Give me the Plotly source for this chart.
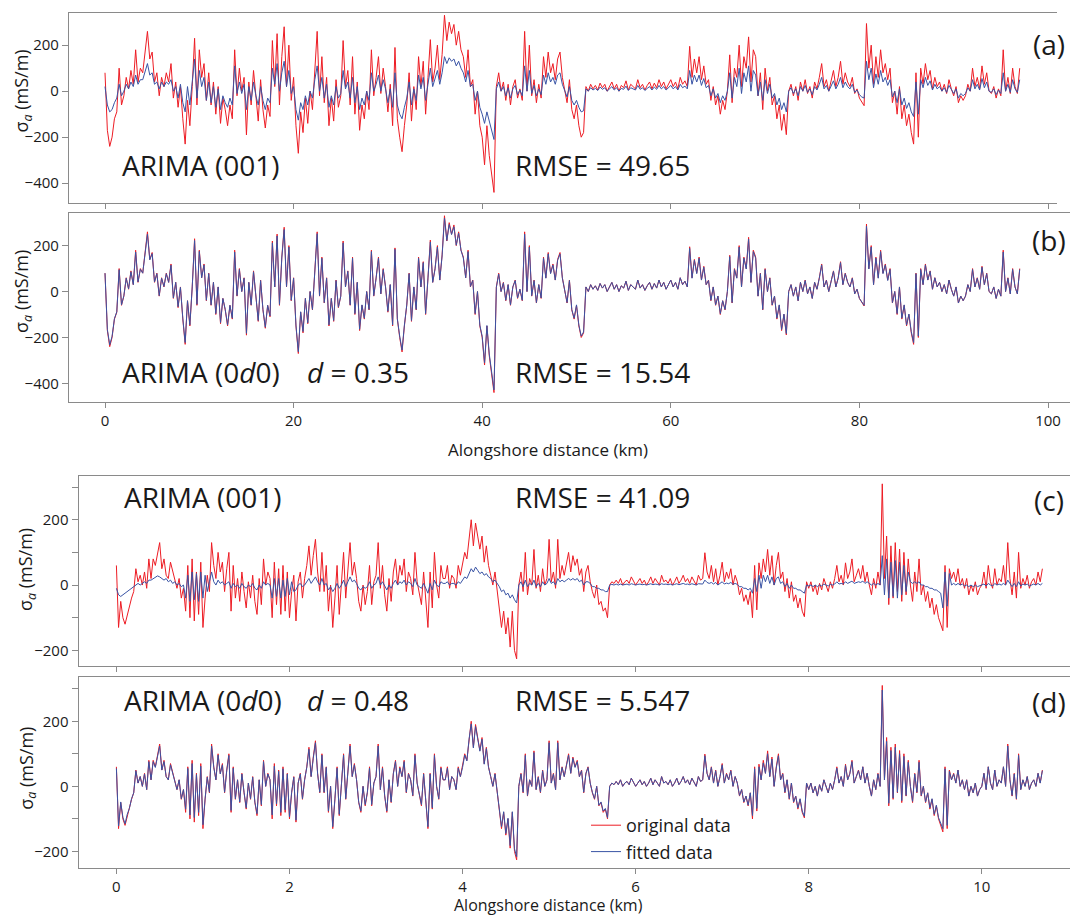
import numpy as np
import plotly.graph_objects as go

# ---------------- data ----------------
STEP_AB = 0.25   # km between samples, panels (a)(b)
STEP_CD = 0.025  # km between samples, panels (c)(d)

orig_ab = [
    80, -170, -240, -200, -120, -90, 100, -60, -20, 60, 10, 90, 30, 180, 40, 100,
    80, 170, 260, 140, 170, 40, 80, -20, 60, 20, 80, 40, 120, -30, 40, -70,
    20, -120, -230, -40, -150, 20, 230, -60, 180, 60, 120, -40, 80, -60, 40, -100,
    20, -140, -30, -80, -150, -60, -120, 180, -20, 100, 0, 60, -190, 40, -60, 90,
    -40, -130, 50, -80, -160, -60, -110, 220, 20, 250, -60, 150, 280, 20, 200, -40,
    60, -150, -270, -90, -180, -30, -140, 0, -80, 100, 260, -20, 150, -50, 60, -150,
    -30, -130, 50, -70, -20, 220, 20, 90, -60, 150, -100, 40, -170, -60, -120, 0,
    -80, 180, -20, 60, 150, -10, 100, 20, -90, 30, -150, 190, -120, -200, -263, -150,
    -60, 80, -130, 20, -80, 150, 20, 130, -100, 60, 224, 40, 100, 200, 50, 160,
    330, 220, 300, 250, 290, 200, 260, 180, 150, 60, 180, 20, 50, -100, 0, -150,
    -200, -320, -150, -280, -350, -440, 20, 80, 0, 40, -40, 30, -60, 20, 50, -30,
    10, -40, 260, 0, 200, -20, 50, -50, 30, -30, 150, 60, 170, 80, 120, 50,
    140, 170, 60, 0, -50, 50, -80, -120, -60, -150, -200, -180, 20, 0, 30, 10,
    25, 5, 35, 15, 30, 0, 20, 40, 10, 30, 0, 25, 15, 45, 5, 30,
    20, 10, 50, 15, 30, 5, 25, 40, 10, 35, 15, 50, 20, 40, 10, 30,
    50, 20, 40, 10, 60, 30, 45, 20, 195, 60, 140, 80, 150, 50, 110, 30,
    50, -40, 20, -60, -20, -100, -40, -80, 0, 158, -50, 100, 60, 200, 20, 150,
    100, 236, 40, 180, 150, -20, 80, -80, 100, 0, 60, -60, -20, -120, -60, -170,
    -100, -189, 0, 30, -20, 20, -40, 40, 0, 50, -10, 20, -30, 40, 10, 60,
    120, 20, 50, 0, 40, 90, 20, 60, 130, 30, 80, 40, 20, 60, -10, 10,
    -30, -50, -63, 294, 100, 200, 30, 150, 60, 180, 80, 120, 50, 100, -50, 0,
    -100, 20, -120, -60, -150, -100, -180, -230, 80, -200, 100, 30, 120, 50, 90, 10,
    60, 20, 40, 0, 30, -10, 50, 10, -20, 20, -50, -20, -40, -20, 30, 0,
    100, 20, 60, 10, 110, 30, 80, 0, -10, 20, -30, 10, -20, 180, 0, 60,
    -10, 100, 20, -10, 100,
]

fit001_ab = [
    20, -60, -90, -80, -50, -30, 30, -20, 0, 30, 10, 40, 20, 70, 30, 50,
    50, 80, 120, 70, 80, 30, 40, 10, 40, 20, 40, 30, 50, 0, 20, -30,
    30, -50, -90, 20, -60, 40, 140, -30, 90, 20, 60, -40, 40, -50, 20, -70,
    10, -80, -20, -50, -70, -30, -60, 110, -10, 40, -10, 30, -80, 20, -40, 40,
    -20, -60, 20, -40, -80, -30, -50, 100, 30, 120, 0, 80, 130, 20, 90, -10,
    20, -80, -126, -50, -80, -20, -60, 0, -30, 50, 110, 0, 60, -30, 30, -70,
    -20, -60, 20, -30, -10, 90, 10, 40, -30, 60, -50, 20, -80, -30, -60, 0,
    -40, 80, 0, 30, 70, 0, 50, 10, -50, 10, -70, 80, -60, -100, -120, -70,
    -30, 40, -60, 10, -40, 70, 10, 60, -40, 30, 100, 20, 50, 90, 30, 80,
    150, 120, 145, 130, 140, 110, 130, 100, 80, 40, 90, 20, 30, -40, 0, -70,
    -100, -140, -90, -130, -160, -210, 10, 40, 0, 20, -20, 15, -30, 10, 25, -15,
    5, -20, 110, 0, 90, -10, 25, -20, 10, -15, 70, 30, 80, 40, 60, 30,
    70, 80, 30, 0, -25, 20, -40, -60, -40, -70, -90, -85, 10, 0, 15, 5,
    12, 3, 18, 8, 15, 0, 10, 20, 5, 15, 0, 12, 8, 22, 3, 15,
    10, 5, 25, 8, 15, 3, 12, 20, 5, 18, 8, 25, 10, 20, 5, 15,
    25, 10, 20, 5, 30, 15, 22, 10, 90, 30, 70, 40, 70, 25, 55, 15,
    25, -20, 10, -30, -10, -50, -20, -40, 0, 80, -30, 60, 20, 100, -10, 80,
    40, 110, 0, 90, 70, -20, 40, -40, 50, -10, 30, -30, -10, -60, -30, -80,
    -50, -90, 0, 15, -10, 10, -20, 20, 0, 25, -5, 10, -15, 20, 5, 30,
    60, 10, 25, 0, 20, 45, 10, 30, 60, 15, 40, 20, 10, 30, -5, 5,
    -15, -25, -30, 130, 50, 100, 15, 75, 30, 90, 40, 60, 25, 50, -25, 0,
    -50, 10, -60, -30, -75, -50, -90, -110, 40, -100, 50, 15, 60, 25, 45, 5,
    30, 10, 20, 0, 15, -5, 25, 5, -10, 10, -30, -10, -20, -10, 15, 0,
    50, 10, 30, 5, 55, 15, 40, 0, -5, 10, -15, 5, -10, 80, 0, 30,
    -5, 50, 10, -5, 50,
]

fit0d0_ab = [
    80, -165, -232, -195, -118, -88, 95, -58, -18, 58, 12, 86, 30, 172, 42, 97,
    80, 165, 250, 138, 165, 42, 78, -18, 58, 22, 78, 40, 115, -28, 40, -66,
    18, -116, -222, -40, -145, 20, 222, -56, 175, 60, 116, -38, 78, -58, 40, -96,
    20, -135, -30, -78, -145, -60, -116, 172, -18, 96, 0, 58, -182, 40, -58, 86,
    -40, -126, 48, -78, -155, -60, -106, 212, 20, 242, -56, 146, 270, 22, 194, -38,
    58, -146, -262, -88, -174, -30, -136, 0, -78, 96, 252, -18, 145, -48, 58, -145,
    -30, -126, 48, -68, -20, 212, 20, 88, -58, 145, -96, 40, -164, -58, -116, 0,
    -78, 174, -18, 58, 145, -10, 96, 20, -86, 30, -145, 184, -118, -194, -255, -146,
    -58, 78, -126, 20, -78, 145, 20, 126, -96, 58, 216, 40, 98, 194, 50, 155,
    320, 222, 292, 248, 282, 202, 254, 180, 146, 60, 174, 22, 48, -96, 0, -146,
    -195, -310, -148, -272, -342, -428, 18, 76, 0, 38, -38, 30, -58, 20, 48, -28,
    10, -38, 250, 0, 194, -18, 48, -48, 30, -28, 145, 58, 164, 78, 116, 50,
    136, 164, 58, 0, -48, 48, -78, -116, -58, -146, -194, -176, 20, 0, 30, 10,
    25, 5, 35, 15, 30, 0, 20, 40, 10, 30, 0, 25, 15, 45, 5, 30,
    20, 10, 50, 15, 30, 5, 25, 40, 10, 35, 15, 50, 20, 40, 10, 30,
    50, 20, 40, 10, 60, 30, 45, 20, 188, 58, 136, 78, 145, 50, 106, 30,
    48, -38, 20, -58, -20, -96, -40, -78, 0, 152, -48, 96, 58, 194, 20, 146,
    98, 228, 40, 174, 145, -20, 78, -78, 96, 0, 58, -58, -20, -116, -58, -165,
    -98, -183, 0, 30, -20, 20, -40, 40, 0, 48, -10, 20, -30, 40, 10, 58,
    116, 20, 48, 0, 40, 88, 20, 58, 126, 30, 78, 40, 20, 58, -10, 10,
    -30, -48, -60, 284, 98, 194, 30, 146, 58, 174, 78, 116, 48, 96, -48, 0,
    -96, 20, -116, -58, -146, -98, -174, -222, 78, -194, 96, 30, 116, 50, 88, 10,
    60, 20, 40, 0, 30, -10, 50, 10, -20, 20, -50, -20, -40, -20, 30, 0,
    96, 20, 58, 10, 106, 30, 78, 0, -10, 20, -30, 10, -20, 172, 0, 58,
    -10, 96, 20, -10, 96,
]

orig_cd = [
    60, -130, -50, -100, -120, -90, -70, -40, -20, 50, 10, 30, 0, 40, -10, 80,
    20, 80, 60, 100, 130, 50, 80, 30, 20, 70, 40, 10, -10, 20, -40, -10,
    -80, 60, -100, 80, -110, 40, -90, 70, -130, -40, 30, -20, 130, 60, 20, 100,
    40, 70, -20, 50, 100, -80, 60, -40, 20, -50, 40, -20, -70, 10, -40, 30,
    -50, -90, 20, -60, 80, 0, 40, 20, -100, 70, -60, 50, -90, 60, -80, 40,
    -100, -20, 30, -110, 10, 40, -40, 20, 60, 120, 30, 90, 140, 40, -20, 100,
    -20, 60, -80, 0, -130, -40, 60, -90, 20, 100, -40, 50, 130, 30, 70, 20,
    -50, -80, 0, -60, -20, 60, -60, 10, 30, 130, -10, 60, -30, -80, 20, -50,
    40, 80, 0, 60, 30, 80, -20, 40, 20, -30, 100, 10, -20, -60, 40, -40,
    -130, 40, -70, 100, 0, -40, 60, 20, 20, 60, -10, 30, 20, -10, 60, 30,
    60, 100, 80, 150, 200, 120, 190, 150, 110, 150, 70, 120, 60, 30, 0, 40,
    -20, -60, -130, -80, -150, -100, -190, -80, -200, -226, 0, 40, -20, 100, -30, 20,
    0, 109, -10, 30, -20, 50, 0, 20, 140, 10, 40, -10, 140, 20, 60, 30,
    70, 100, 40, 90, 60, 80, 30, 50, -20, 40, 60, 10, -20, -40, 0, -60,
    -50, -80, -70, -100, 0, 10, 5, 15, 5, 20, 0, 10, 15, 5, 25, 10,
    0, 10, 20, 5, 15, 0, 10, 25, 5, 20, 10, 0, 30, 10, 15, 5,
    20, 0, 10, 25, 5, 15, 30, 10, 20, 5, 25, 10, 0, 30, 15, 20,
    99, 40, 20, 60, 10, 50, 0, 30, 70, 10, 40, 20, 50, 0, 30, 10,
    -30, -10, -50, -30, -60, -20, -100, 60, -76, 68, 20, 80, 40, 109, 30, 90,
    0, 60, 100, 20, 40, -20, 20, -40, 10, -50, -30, -70, -40, -80, -97, 10,
    -10, 10, -20, 0, -30, 5, -15, 20, 0, -20, 10, -10, 20, 60, 10, 30,
    0, 68, 20, 40, 80, 10, 30, 50, 20, 60, 10, 40, 0, -30, 20, -10,
    40, 0, 310, 20, 150, -60, 120, -40, 130, -20, 110, -50, 100, -30, 80, 0,
    -50, 40, -20, 80, -30, 0, -50, -20, -70, -40, -90, -60, -100, -120, -140, 60,
    -130, 50, 20, 40, 10, 50, 0, 20, -10, 20, -30, 0, -20, 10, -30, -10,
    0, 40, -10, 60, 10, -10, 50, 0, 20, 10, 60, 0, 130, 20, -30, 40,
    -40, 100, -10, 20, 0, 30, -10, 10, 20, 0, 40, 10, 50,
]

fit001_cd = [
    -10, -30, -35, -30, -25, -20, -15, -10, -5, 0, 5, 0, 5, 10, 5, 15,
    15, 20, 25, 28, 25, 20, 15, 20, 10, 15, 5, 10, 0, 5, -5, 0,
    -40, 30, -50, 40, -45, 35, -50, 40, -40, 30, -20, 10, 40, 10, 0, 15,
    5, 10, 0, 5, 10, -10, 5, -5, 0, -10, 5, -5, -10, 0, -5, 5,
    -10, -15, 0, -10, 10, 0, 5, 0, -40, 20, -35, 20, -40, 15, -35, 20,
    -30, 10, -20, -15, 0, 5, -5, 0, 10, 20, 5, 15, 25, 10, 0, 20,
    0, 5, -15, -5, -20, -10, 5, -10, 0, 15, -5, 10, 25, 10, 15, 5,
    -10, -15, -5, -10, -5, 10, -10, 0, 5, 25, 0, 10, -5, -15, 0, -10,
    5, 15, 0, 10, 5, 15, 0, 10, 5, -5, 20, 0, -5, -10, 5, -10,
    -25, 5, -15, 15, 0, -5, 10, 5, 5, 10, 0, 5, 5, 0, 10, 5,
    15, 25, 20, 35, 50, 40, 55, 45, 35, 40, 30, 35, 25, 20, 10, 15,
    5, -5, -20, -15, -30, -25, -40, -30, -45, -55, 0, 10, -5, 15, -5, 5,
    0, 15, -5, 5, -5, 10, 0, 5, 20, 5, 10, 0, 20, 10, 15, 10,
    15, 20, 15, 20, 15, 20, 10, 15, 0, 10, 10, 5, -5, -5, -10, -10,
    -15, -15, -20, -20, 0, 2, 0, 3, 0, 3, 0, 2, 3, 0, 4, 2,
    0, 2, 3, 1, 2, 0, 3, 4, 1, 3, 2, 0, 4, 2, 3, 1,
    3, 0, 2, 4, 1, 3, 5, 2, 3, 1, 4, 2, 0, 4, 3, 3,
    15, 8, 5, 8, 3, 8, 0, 5, 10, 3, 6, 4, 8, 2, 5, 2,
    -5, -5, -10, -10, -15, -10, -25, 20, -20, 30, -10, 30, 10, 30, 5, 25,
    0, 20, 25, 5, 10, -5, 5, -10, 0, -10, -10, -15, -15, -20, -25, 0,
    -3, 0, -5, 0, -5, 0, -3, 3, 0, -3, 2, 0, 3, 10, 3, 5,
    3, 10, 5, 8, 12, 5, 8, 10, 8, 12, 5, 10, 5, 0, 5, 0,
    5, 0, 90, -30, 80, -40, 70, -35, 75, -40, 70, -30, 60, -20, 40, 10,
    5, 10, 5, 10, 0, 0, -5, -5, -10, -10, -15, -15, -20, -25, -70, 40,
    -65, 35, 0, 5, 0, 5, 0, 3, -3, 0, -5, 0, -5, 0, -5, -3,
    0, 3, -3, 5, 0, -3, 5, 0, 3, 0, 5, 0, 15, 3, -5, 5,
    -5, 10, -3, 3, 0, 3, -3, 0, 3, 0, 5, 0, 5,
]

fit0d0_cd = [
    55, -122, -48, -95, -115, -86, -68, -38, -20, 48, 10, 30, 0, 38, -10, 76,
    20, 76, 58, 96, 124, 50, 76, 30, 20, 66, 38, 10, -10, 20, -38, -10,
    -70, 55, -88, 70, -96, 36, -80, 62, -118, -38, 28, -18, 124, 58, 20, 96,
    38, 66, -18, 48, 95, -74, 56, -38, 20, -48, 38, -18, -66, 10, -38, 28,
    -48, -84, 20, -56, 76, 0, 38, 20, -88, 62, -54, 46, -80, 54, -72, 38,
    -94, -18, 28, -104, 10, 38, -38, 20, 58, 114, 30, 86, 134, 38, -18, 96,
    -18, 58, -76, 0, -124, -38, 56, -86, 20, 96, -38, 48, 124, 30, 66, 20,
    -48, -76, 0, -56, -18, 56, -56, 10, 30, 124, -10, 56, -28, -76, 20, -48,
    38, 76, 0, 56, 30, 76, -18, 38, 20, -28, 95, 10, -18, -56, 38, -38,
    -124, 38, -66, 95, 0, -38, 56, 20, 20, 56, -10, 30, 20, -10, 56, 30,
    58, 96, 78, 145, 192, 118, 184, 146, 108, 145, 68, 116, 58, 30, 0, 38,
    -20, -58, -124, -78, -145, -98, -182, -78, -192, -216, 0, 38, -18, 95, -28, 20,
    0, 104, -10, 28, -18, 48, 0, 20, 134, 10, 38, -10, 134, 20, 58, 30,
    68, 96, 40, 86, 58, 76, 30, 48, -18, 38, 58, 10, -18, -38, 0, -58,
    -48, -76, -68, -96, 0, 10, 5, 15, 5, 20, 0, 10, 15, 5, 25, 10,
    0, 10, 20, 5, 15, 0, 10, 25, 5, 20, 10, 0, 30, 10, 15, 5,
    20, 0, 10, 25, 5, 15, 30, 10, 20, 5, 25, 10, 0, 30, 15, 20,
    94, 40, 20, 58, 10, 48, 0, 30, 66, 10, 38, 20, 48, 0, 30, 10,
    -28, -10, -48, -30, -58, -20, -90, 54, -68, 60, 20, 72, 40, 100, 30, 84,
    0, 56, 94, 20, 38, -18, 20, -38, 10, -48, -30, -66, -38, -76, -92, 10,
    -10, 10, -20, 0, -30, 5, -15, 20, 0, -20, 10, -10, 20, 56, 10, 30,
    0, 64, 20, 38, 76, 10, 30, 48, 20, 60, 10, 40, 0, -30, 20, -10,
    38, 0, 296, 20, 138, -52, 110, -36, 120, -18, 100, -44, 92, -28, 74, 0,
    -46, 38, -18, 74, -28, 0, -48, -20, -66, -38, -86, -58, -96, -114, -130, 54,
    -120, 46, 20, 38, 10, 50, 0, 20, -10, 20, -30, 0, -20, 10, -30, -10,
    0, 40, -10, 60, 10, -10, 50, 0, 20, 10, 60, 0, 124, 20, -28, 38,
    -38, 95, -10, 20, 0, 30, -10, 10, 20, 0, 40, 10, 48,
]

xticks_ab = [0, 20, 40, 60, 80, 100]
xticks_cd = [0, 2, 4, 6, 8, 10]
yticks_ab = [-400, -200, 0, 200]
yticks_cd = [-200, 0, 200]
yminor_cd = [-100, 100, 300]

labels = {
    "a": ("ARIMA (001)", None, "RMSE = 49.65", "(a)"),
    "b": ("ARIMA (0<i>d</i>0)", "<i>d</i> = 0.35", "RMSE = 15.54", "(b)"),
    "c": ("ARIMA (001)", None, "RMSE = 41.09", "(c)"),
    "d": ("ARIMA (0<i>d</i>0)", "<i>d</i> = 0.48", "RMSE = 5.547", "(d)"),
}

# ---------------- styling / geometry ----------------
W, H = 1070, 919
RED = "#ED1C24"
BLUE = "#3953A4"
FRAME = "#8a8a8a"
TXT = "#1a1a1a"
FONT = "Open Sans"


def fx(p):
    return p / W


def fy(p):
    return 1 - p / H


def km(vals, step):
    return np.round(np.arange(len(vals)) * step, 4)


fig = go.Figure()

series = [
    ("x", "y", orig_ab, fit001_ab, STEP_AB, False),
    ("x2", "y2", orig_ab, fit0d0_ab, STEP_AB, False),
    ("x3", "y3", orig_cd, fit001_cd, STEP_CD, False),
    ("x4", "y4", orig_cd, fit0d0_cd, STEP_CD, True),
]
for xa, ya, o, f, st, leg in series:
    fig.add_trace(go.Scatter(x=km(o, st), y=o, xaxis=xa, yaxis=ya, mode="lines",
                             line=dict(color=RED, width=1), name="original data",
                             showlegend=leg, hoverinfo="skip"))
    fig.add_trace(go.Scatter(x=km(f, st), y=f, xaxis=xa, yaxis=ya, mode="lines",
                             line=dict(color=BLUE, width=1), name="fitted data",
                             showlegend=leg, hoverinfo="skip"))

tickfont = dict(family=FONT, size=15, color=TXT)
common_x = dict(showgrid=False, zeroline=False, showline=True, linecolor=FRAME, linewidth=1,
                mirror=True, ticks="outside", ticklen=5, tickcolor=FRAME, tickfont=tickfont)
common_y = dict(showgrid=False, zeroline=False, showline=True, linecolor=FRAME, linewidth=1,
                mirror=False, ticks="outside", ticklen=6, tickcolor=FRAME, tickfont=tickfont)
minor_cd = dict(tickvals=yminor_cd, ticks="outside", ticklen=6, tickcolor=FRAME, showgrid=False)

# pixel geometry of the four panels
A_TOP, A_BOT = 12.5, 203
B_TOP, B_BOT = 213, 402
C_TOP, C_BOT = 476, 666
D_TOP, D_BOT = 677, 868
AB_L, AB_R_A, AB_R_B = 68.9, 1057, 1070
CD_L, CD_R = 78.5, 1070
AB_X0, AB_PPK = 105.0, 9.43      # px of 0 km, px per km
CD_X0, CD_PPK = 116.4, 86.54


def xr(l, r, x0, ppk):
    return [(l - x0) / ppk, (r - x0) / ppk]


fig.update_layout(
    xaxis=dict(domain=[fx(AB_L), fx(AB_R_A)], range=xr(AB_L, AB_R_A, AB_X0, AB_PPK), anchor="y",
               tickvals=xticks_ab, showticklabels=False, **common_x),
    xaxis2=dict(domain=[fx(AB_L), fx(AB_R_B)], range=xr(AB_L, AB_R_B, AB_X0, AB_PPK), anchor="y2",
                tickvals=xticks_ab, **common_x),
    xaxis3=dict(domain=[fx(CD_L), fx(CD_R)], range=xr(CD_L, CD_R, CD_X0, CD_PPK), anchor="y3",
                tickvals=xticks_cd, showticklabels=False, **common_x),
    xaxis4=dict(domain=[fx(CD_L), fx(CD_R)], range=xr(CD_L, CD_R, CD_X0, CD_PPK), anchor="y4",
                tickvals=xticks_cd, **common_x),
    yaxis=dict(domain=[fy(A_BOT), fy(A_TOP)], range=[-486, 342], anchor="x",
               tickvals=yticks_ab, **common_y),
    yaxis2=dict(domain=[fy(B_BOT), fy(B_TOP)], range=[-481, 342], anchor="x2",
                tickvals=yticks_ab, **common_y),
    yaxis3=dict(domain=[fy(C_BOT), fy(C_TOP)], range=[-248, 334], anchor="x3",
                tickvals=yticks_cd, minor=minor_cd, **common_y),
    yaxis4=dict(domain=[fy(D_BOT), fy(D_TOP)], range=[-251, 336], anchor="x4",
                tickvals=yticks_cd, minor=minor_cd, **common_y),
)

ann = []
big = dict(family=FONT, size=28, color=TXT)
# panel text: (key, xref, yref, x_arima, x_d, x_rmse, y_text, x_tag, y_tag)
place = [
    ("a", "x", "y", 1.64, None, 43.3, -320, 100.1, 205),
    ("b", "x2", "y2", 1.64, 21.2, 43.3, -349, 100.1, 223),
    ("c", "x3", "y3", 0.067, None, 4.58, 270, 10.78, 260),
    ("d", "x4", "y4", 0.067, 2.18, 4.58, 264, 10.78, 258),
]
for key, xref, yref, xa, xd, xrm, yt, xtag, ytag in place:
    t_ar, t_d, t_rm, t_tag = labels[key]
    ann.append(dict(x=xa, y=yt, xref=xref, yref=yref, text=t_ar, showarrow=False,
                    xanchor="left", yanchor="middle", font=big))
    if t_d:
        ann.append(dict(x=xd, y=yt, xref=xref, yref=yref, text=t_d, showarrow=False,
                        xanchor="left", yanchor="middle", font=big))
    ann.append(dict(x=xrm, y=yt, xref=xref, yref=yref, text=t_rm, showarrow=False,
                    xanchor="left", yanchor="middle", font=big))
    ann.append(dict(x=xtag, y=ytag, xref=xref, yref=yref, text=t_tag, showarrow=False,
                    xanchor="center", yanchor="middle", font=big))

ytitle = "σ<sub><i>a</i></sub> (mS/m)"
for yref, xp, yv in [("y", 22.4, 0), ("y2", 22.4, 0), ("y3", 26.7, 48), ("y4", 26.7, 56)]:
    ann.append(dict(x=fx(xp), y=yv, xref="paper", yref=yref, text=ytitle, textangle=-90,
                    showarrow=False, xanchor="center", yanchor="middle",
                    font=dict(family=FONT, size=18, color=TXT)))

xtitle = "Alongshore distance (km)"
ann.append(dict(x=fx(548), y=fy(449), xref="paper", yref="paper", text=xtitle,
                showarrow=False, xanchor="center", yanchor="middle",
                font=dict(family=FONT, size=17, color=TXT)))
ann.append(dict(x=fx(548), y=fy(917), xref="paper", yref="paper", text=xtitle,
                showarrow=False, xanchor="center", yanchor="bottom",
                font=dict(family=FONT, size=16, color=TXT), borderpad=0))

fig.update_layout(
    width=W, height=H, autosize=False,
    margin=dict(l=0, r=0, t=0, b=0),
    paper_bgcolor="white", plot_bgcolor="white",
    annotations=ann,
    legend=dict(x=fx(586), y=fy(807), xanchor="left", yanchor="top",
                font=dict(family=FONT, size=18, color=TXT), bgcolor="rgba(0,0,0,0)",
                itemwidth=30, tracegroupgap=0),
    font=dict(family=FONT, color=TXT),
)

fig.write_html("out.html", config={"displayModeBar": False},
               post_script="document.body.style.margin='0';document.body.style.overflow='hidden';")
